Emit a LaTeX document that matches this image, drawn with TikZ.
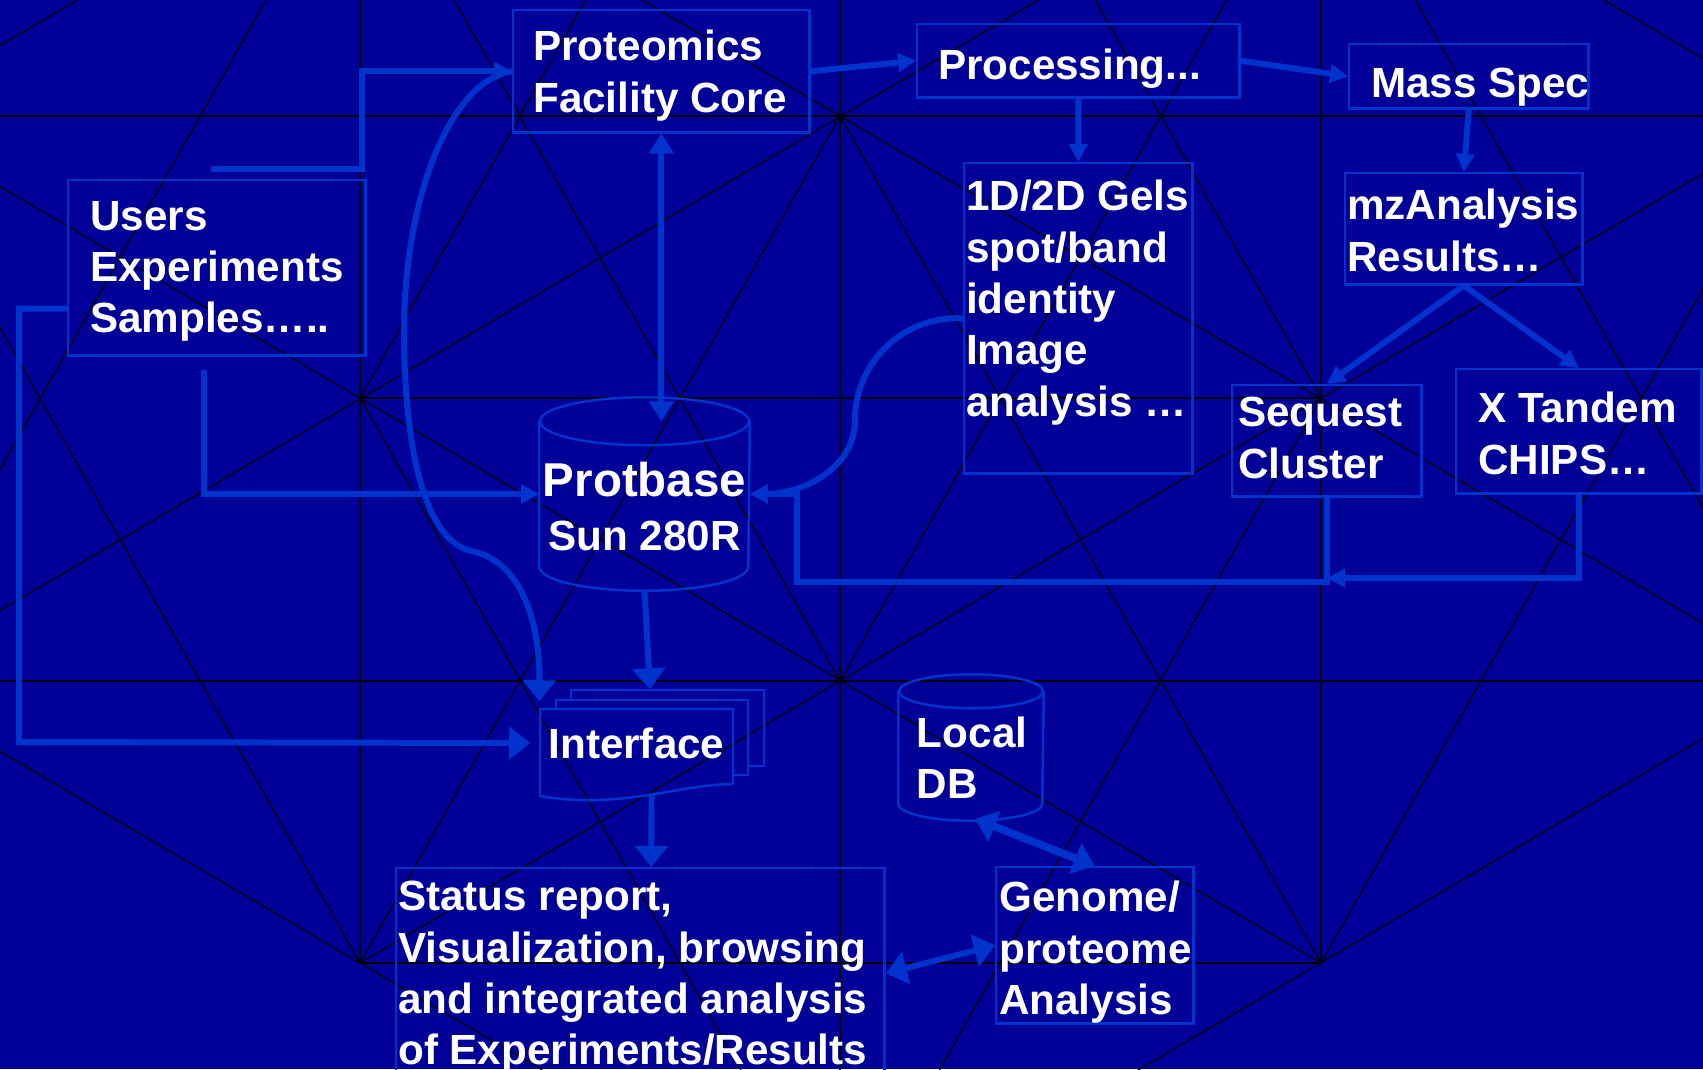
\documentclass[tikz,border=0pt]{standalone}
\usepackage{fontspec}
\setmainfont{Liberation Sans}
\usetikzlibrary{arrows.meta,calc}

\definecolor{bgblue}{RGB}{0,0,153}
\definecolor{linkblue}{RGB}{0,51,204}

% box text: width, height, left pad, top pad, lines
\newcommand{\panel}[5]{\parbox[c][#2][t]{#1}{\raggedright\leftskip=#3\relax\rightskip=-2cm plus 1fil\relax\vspace*{#4}#5}}

\tikzset{
  smallhead/.tip={Triangle[length=0.18cm,width=0.18cm]},
  midhead/.tip={Triangle[length=0.2cm,width=0.24cm]},
  bighead/.tip={Triangle[length=0.21cm,width=0.32cm]},
  mesh/.style={black, line width=0.35pt},
  rim/.style={draw=linkblue, line width=0.7pt},
  panel/.style={rim, anchor=north west, inner sep=0pt, text=white},
  drum/.style={inner sep=0pt, text=white},
  flow/.style={draw=linkblue, line width=1.7pt, -smallhead},
  bigflow/.style={flow, -bighead},
  twoway/.style={flow, bighead-bighead}
}

\begin{document}
\begin{tikzpicture}[x=0.01cm, y=0.01cm, font=\fontsize{12}{14.6}\selectfont\bfseries]
  \useasboundingbox (0,0) rectangle (1703,-1069);
  \fill[bgblue] (0,0) rectangle (1703,-1069);

  % background mesh
  \begin{scope}
    \clip (0,0) rectangle (1703,-1069);
    \coordinate (hP) at (-120,-116);
    \coordinate (hQ) at (360,166);
    \coordinate (hW) at (840,449);
    \coordinate (hR) at (1321,166);
    \coordinate (hA) at (360,-398);
    \coordinate (hB) at (840,-116);
    \coordinate (hS) at (1801,-116);
    \coordinate (hE) at (1321,-398);
    \coordinate (hT) at (-120,-681);
    \coordinate (hC) at (840,-681);
    \coordinate (hU) at (1801,-681);
    \coordinate (hD) at (360,-963);
    \coordinate (hF) at (1321,-963);
    \coordinate (hG) at (840,-1245);
    \foreach \a/\b in {hP/hS, hA/hE, hT/hU, hD/hF, hQ/hD, hW/hG, hR/hF,
                       hP/hF, hQ/hU, hT/hG, hR/hS, hP/hQ, hT/hR, hD/hS, hG/hU,
                       hP/hD, hQ/hC, hB/hF, hR/hU, hA/hG, hW/hE,
                       hT/hQ, hD/hB, hA/hW, hC/hR, hG/hE, hF/hS}
      \draw[mesh] (\a) -- (\b);
  \end{scope}

  % boxes
  \node[panel] (core) at (512,-9) {\panel{2.96cm}{1.22cm}{0.20cm}{0.20cm}{Proteomics\\Facility Core}};
  \node[panel] (proc) at (916,-23) {\panel{3.22cm}{0.73cm}{0.21cm}{0.25cm}{Processing...}};
  \node[panel] (ms) at (1348,-43) {\panel{2.39cm}{0.64cm}{0.22cm}{0.24cm}{Mass Spec}};
  \node[panel] (users) at (67,-179) {\panel{2.97cm}{1.75cm}{0.22cm}{0.21cm}{Users\\Experiments\\Samples…..}};
  \node[panel] (gels) at (963,-162) {\panel{2.28cm}{3.10cm}{0.02cm}{0.17cm}{1D/2D Gels\\spot/band\\identity\\Image\\analysis …}};
  \node[panel] (mz) at (1344,-172) {\panel{2.37cm}{1.11cm}{0.02cm}{0.16cm}{mzAnalysis\\Results…}};
  \node[panel] (seq) at (1231,-384) {\panel{1.89cm}{1.11cm}{0.06cm}{0.12cm}{Sequest\\Cluster}};
  \node[panel] (xt) at (1455,-368) {\panel{2.45cm}{1.24cm}{0.22cm}{0.23cm}{X Tandem\\CHIPS…}};
  \node[panel] (status) at (395,-867) {\panel{4.88cm}{2.10cm}{0.02cm}{0.13cm}{Status report,\\Visualization, browsing\\and integrated analysis\\of Experiments/Results}};
  \node[panel] (genome) at (995,-866) {\panel{1.97cm}{1.56cm}{0.03cm}{0.14cm}{Genome/\\proteome\\Analysis}};

  % databases
  \node[drum] (protbase) at (644.5,-494) {\panel{2.09cm}{1.44cm}{0cm}{0.40cm}{\centering\fontsize{12}{15.4}\selectfont{\fontsize{13.5}{15.4}\selectfont Protbase}\\Sun 280R}};
  \draw[rim] (protbase.north west) -- (protbase.south west) arc[start angle=180, end angle=360, x radius=104.5, y radius=24] -- (protbase.north east);
  \draw[rim] (protbase.north) ellipse[x radius=104.5, y radius=24];
  \node[drum] (localdb) at (971,-747.5) {\panel{1.44cm}{1.11cm}{0.18cm}{0.25cm}{Local\\DB}};
  \draw[rim] (localdb.north west) -- (localdb.south west) arc[start angle=180, end angle=360, x radius=72, y radius=17] -- (localdb.north east);
  \draw[rim] (localdb.north) ellipse[x radius=72, y radius=17];

  % document stack
  \node[drum, minimum width=1.93cm, minimum height=0.68cm] (iface) at (636.5,-743) {Interface};
  \draw[rim] (571,-700) -- (571,-690) -- (764,-690) -- (764,-766) -- (748,-766);
  \draw[rim] (556,-709) -- (556,-700) -- (748,-700) -- (748,-775) -- (733,-775);
  \draw[rim] (733,-784) -- (733,-709) -- (540,-709) -- (540,-796) .. controls (620,-810) and (680,-784) .. (733,-784);

  % connectors
  \coordinate (uA) at (211,-169);
  \coordinate (uB) at (204,-370);
  \draw[flow] (uA) -- (362,-169) |- (core.west);
  \draw[bigflow] ([yshift=0.48cm]users.south west) -| (19,-742) -- ([xshift=-0.09cm]iface.west);
  \draw[flow] (uB) |- (protbase.west);
  \draw[bigflow] (core.west) .. controls (450,-80) and (404,-200) .. (404,-330)
    .. controls (404,-450) and (425,-540) .. (471,-551)
    .. controls (520,-560) and (540,-620) .. ([yshift=0.07cm]iface.north west);
  \draw[flow, midhead-midhead] (core.south) -- (core.south |- protbase.north);
  \draw[flow] (core.east) -- (proc.west);
  \draw[flow] (proc.east) -- (ms.west);
  \draw[flow] (proc.south) -- (gels.north);
  \draw[flow] (ms.south) -- (mz.north);
  \draw[flow] (mz.south) -- (seq.north);
  \draw[flow] (mz.south) -- (xt.north);
  \draw[flow] (gels.west) .. controls (904,-315) and (855,-362) .. (855,-420)
    .. controls (855,-470) and (800,-494) .. (protbase.east);
  \draw[flow] (seq.south) |- (797,-582) |- (protbase.east);
  \draw[flow] (xt.south) |- (1327,-578);
  \draw[bigflow] ([yshift=-0.24cm]protbase.south) -- ([xshift=0.135cm,yshift=0.19cm]iface.north);
  \draw[bigflow] ([xshift=0.15cm,yshift=-0.175cm]iface.south) -- ([xshift=0.11cm]status.north);
  \draw[twoway, line width=2.2pt] ([xshift=0.04cm,yshift=-0.15cm]localdb.south) -- (genome.north);
  \draw[twoway] (status.east) -- (genome.west);
\end{tikzpicture}
\end{document}
